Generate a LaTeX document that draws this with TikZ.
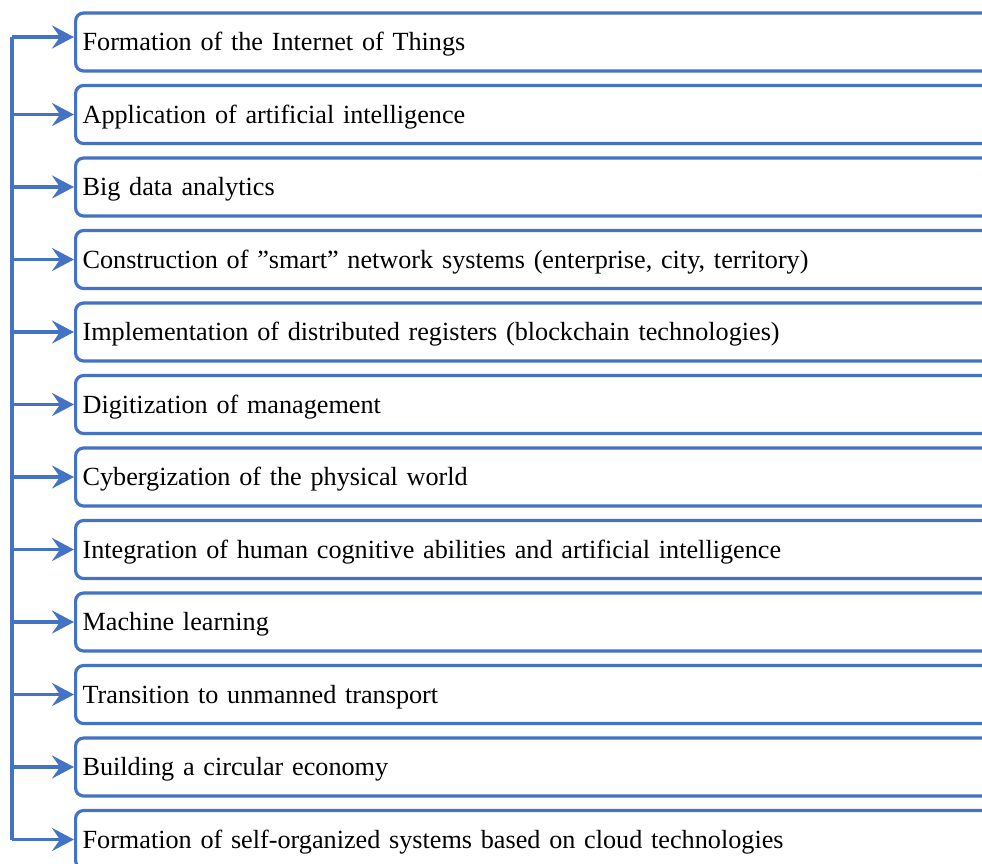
\documentclass[tikz,border=0pt]{standalone}
\usepackage{fontspec}
\setmainfont{Liberation Serif}
\usetikzlibrary{calc}
\usetikzlibrary{arrows.meta}

\definecolor{frame blue}{RGB}{68,114,196}

\begin{document}
\begin{tikzpicture}[x=1pt, y=-1pt]% trends
            \tikzstyle{item} = [draw=frame blue, line width=3.2pt, rounded corners=8pt,
                anchor=west, minimum height=58pt, text width=926pt, inner xsep=7pt,
                text height=21pt, text depth=4pt,
                align=left, font=\fontsize{26.2}{30}\selectfont]
            \tikzstyle{link} = [frame blue, line width=3.2pt]
            \tikzstyle{arrow head} = [-{Stealth[length=22pt, width=23pt, inset=8pt]}]
            \useasboundingbox (0, 0) rectangle (982, 863);
            \clip (0, 0) rectangle (982, 863);
            \node[item] (item 1) at (74, 42) {Formation of the Internet of Things};
            \node[item] (item 2) at (74, 114.5) {Application of artificial intelligence};
            \node[item] (item 3) at (74, 187) {Big data analytics};
            \node[item] (item 4) at (74, 259.5) {Construction of \symbol{34}smart\symbol{34} network systems (enterprise, city, territory)};
            \node[item] (item 5) at (74, 332) {Implementation of distributed registers (blockchain technologies)};
            \node[item] (item 6) at (74, 404.5) {Digitization of management};
            \node[item] (item 7) at (74, 477) {Cybergization of the physical world};
            \node[item] (item 8) at (74, 549.5) {Integration of human cognitive abilities and artificial intelligence};
            \node[item] (item 9) at (74, 622) {Machine learning};
            \node[item] (item 10) at (74, 694.5) {Transition to unmanned transport};
            \node[item] (item 11) at (74, 767) {Building a circular economy};
            \node[item] (item 12) at (74, 839.5) {Formation of self-organized systems based on cloud technologies};
            % trunk on the left
            \draw[link] ($(item 1.west) - (62, 5)$) -- ($(item 12.west) - (62, 0)$);
            \draw[link, arrow head] ($(item 1.west) - (62, 5)$) -- ($(item 1.west) - (0, 5)$);
            \draw[link, arrow head] ($(item 2.west) - (62, 0)$) -- (item 2.west);
            \draw[link, arrow head] ($(item 3.west) - (62, 0)$) -- (item 3.west);
            \draw[link, arrow head] ($(item 4.west) - (62, 0)$) -- (item 4.west);
            \draw[link, arrow head] ($(item 5.west) - (62, 0)$) -- (item 5.west);
            \draw[link, arrow head] ($(item 6.west) - (62, 0)$) -- (item 6.west);
            \draw[link, arrow head] ($(item 7.west) - (62, 0)$) -- (item 7.west);
            \draw[link, arrow head] ($(item 8.west) - (62, 0)$) -- (item 8.west);
            \draw[link, arrow head] ($(item 9.west) - (62, 0)$) -- (item 9.west);
            \draw[link, arrow head] ($(item 10.west) - (62, 0)$) -- (item 10.west);
            \draw[link, arrow head] ($(item 11.west) - (62, 0)$) -- (item 11.west);
            \draw[link, arrow head] ($(item 12.west) - (62, 0)$) -- (item 12.west);
        \end{tikzpicture}
\end{document}
